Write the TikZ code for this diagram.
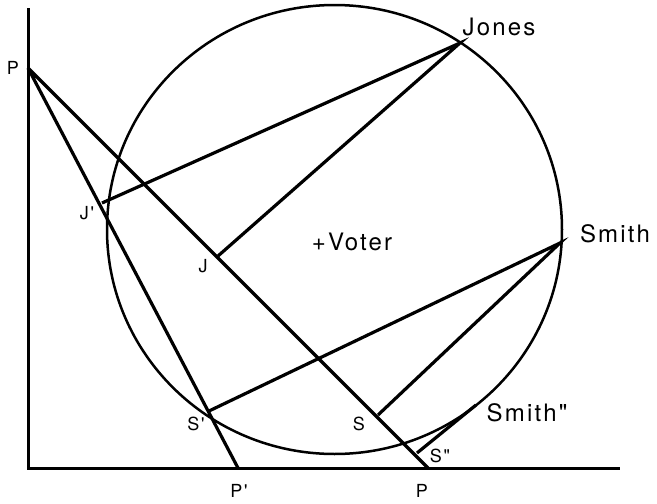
\documentclass[tikz,border=0pt]{standalone}
\usepackage{fontspec}
\newfontfamily\heros[LetterSpace=9]{TeX Gyre Heros}
\newcommand{\biglbl}{\heros\fontsize{24}{27}\selectfont}
\newcommand{\smllbl}{\heros\fontsize{18}{20}\selectfont}
\begin{document}
\begin{tikzpicture}[x=1pt,y=-1pt,
	seg/.style={line width=3.2pt, line join=miter},
	big/.style={font=\biglbl, inner sep=0pt},
	sml/.style={font=\smllbl, inner sep=0pt}]
	\useasboundingbox (0,0) rectangle (657,504);
	% axes and the circle
	\draw[line width=3pt] (28,8) -- (28,468) -- (620,468);
	\draw[line width=2.5pt] (334.5,229.5) ellipse [x radius=227.5, y radius=224.5];
	% points
	\coordinate (P) at (28,68);
	\coordinate (Pb) at (428,468);
	\coordinate (Pp) at (238,468);
	\coordinate (jones) at (460,43);
	\coordinate (Jp) at (102,203);
	\coordinate (J) at (218,256);
	\coordinate (smith) at (560,243);
	\coordinate (Sp) at (209,411);
	\coordinate (S) at (378,415);
	\coordinate (smithpp) at (476,405);
	\coordinate (Spp) at (417,453);
	% labels
	\node[sml] (lP) at (13,68) {P};
	\node[sml] (lPb) at (422,491) {P};
	\node[sml] (lPp) at (239,491) {P'};
	\node[big] (ljones) at (499,27) {Jones};
	\node[sml] (lJp) at (87,213) {J'};
	\node[sml] (lJ) at (203,266) {J};
	\node[big] (lsmith) at (615,234) {Smith};
	\node[big] (lvoter) at (352,242) {+Voter};
	\node[sml] (lSp) at (196,424) {S'};
	\node[sml] (lS) at (359,424) {S};
	\node[big] (lsmithpp) at (527,413) {Smith"};
	\node[sml] (lSpp) at (440,456) {S"};
	% projections
	\draw[seg, line join=bevel] (Pp) -- (P) -- (Pb);
	\draw[seg] (Jp) -- (jones) -- (J);
	\draw[seg] (Sp) -- (smith) -- (S);
	\draw[seg] (Spp) -- (smithpp);
\end{tikzpicture}
\end{document}
